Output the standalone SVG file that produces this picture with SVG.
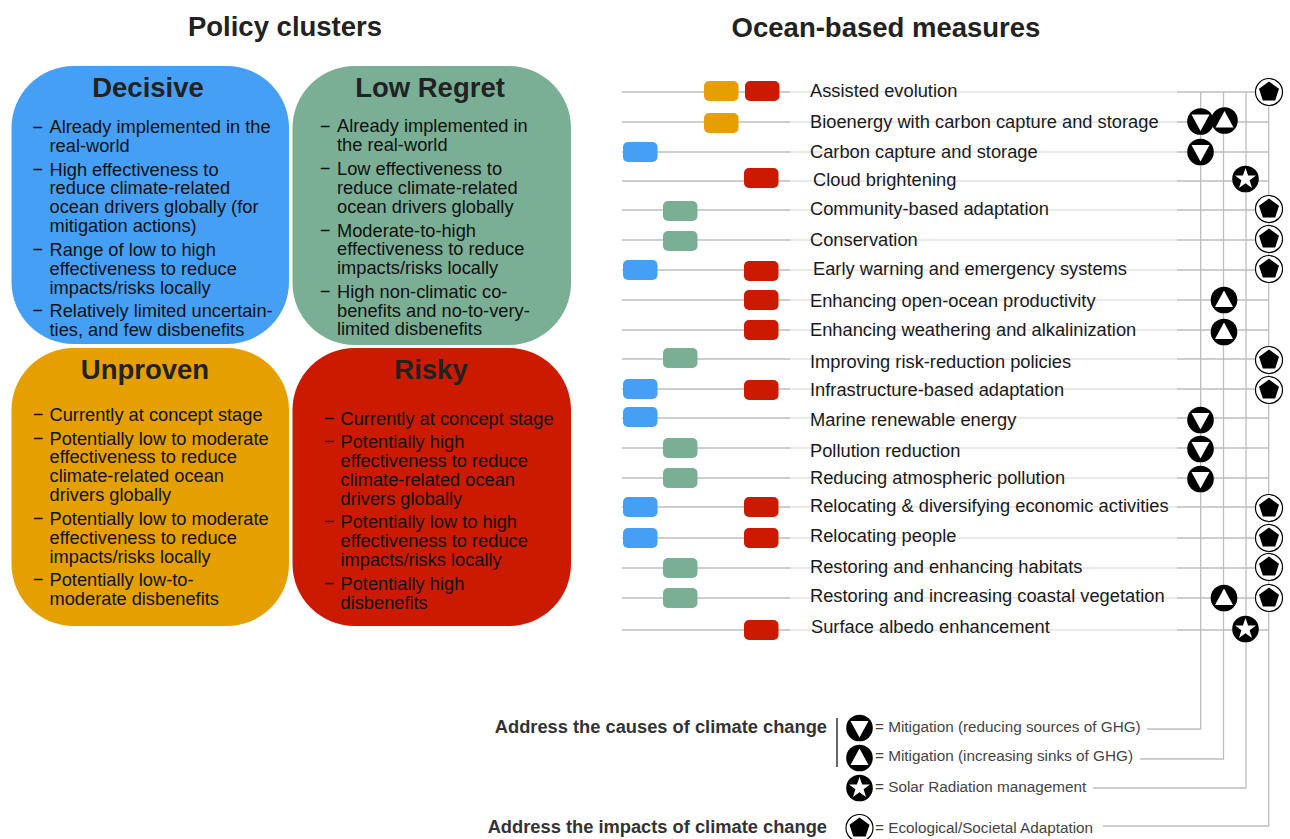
<svg xmlns="http://www.w3.org/2000/svg" width="1290" height="839" viewBox="0 0 1290 839">
<style>
text{font-family:"Liberation Sans",Arial,sans-serif}
.h{font-size:27.5px;font-weight:700;fill:#222;text-anchor:middle}
.t{font-size:18.25px;fill:#111}
.d{font-size:15px;fill:#111;stroke:#111;stroke-width:.3}
.m{font-size:18.3px;fill:#1a1a1a}
.l{font-size:15.3px;fill:#444}
.b{font-size:18.3px;font-weight:700;fill:#333;text-anchor:end}
.f{stroke:#e4e4e4;stroke-width:1.3;fill:none}
.s{stroke:#bdbdbd;stroke-width:1.3;fill:none}
.bl{fill:#45a0f5}.gr{fill:#7aaf95}.am{fill:#e5a000}.re{fill:#cc1a00}
</style>
<defs>
<rect id="pill" width="34.500" height="20" rx="5"/>
<g id="down"><circle r="13.3"/><polygon points="-9,-7 9,-7 0,9.5" fill="#fff"/></g>
<g id="up"><circle r="13.3"/><polygon points="-9,7 9,7 0,-9.5" fill="#fff"/></g>
<g id="star"><circle r="13.3"/><polygon points="0,-11 2.6,-3.4 10.5,-3.4 4.1,1.3 6.5,8.9 0,4.2 -6.5,8.9 -4.1,1.3 -10.5,-3.4 -2.6,-3.4" fill="#fff"/></g>
<g id="pent"><circle r="13.5" fill="#fff" stroke="#000" stroke-width="1.2"/><polygon points="0,-10.5 10,-3.2 6.2,8.5 -6.2,8.5 -10,-3.2"/></g>
</defs>
<rect width="1290" height="839" fill="#fff"/>
<g id="titles">
<text class="h" x="285" y="36">Policy clusters</text>
<text class="h" x="886" y="37">Ocean-based measures</text>
</g>
<g id="connectors">
<path class="f" d="M790 92H1177M790 122H1177M790 152H1177M790 181H1177M790 210H1177M790 240H1177M790 270H1177M790 300H1177M790 330H1177M790 359H1177M790 389H1177M790 418H1177M790 448H1177M790 478H1177M790 507H1177M790 538H1177M790 568H1177M790 598H1177M790 630H1177"/>
<path class="s" d="M622 92H790M622 122H790M622 152H790M622 181H790M622 210H790M622 240H790M622 270H790M622 300H790M622 330H790M622 359H790M622 389H790M622 418H790M622 448H790M622 478H790M622 507H790M622 538H790M622 568H790M622 598H790M622 630H790"/>
<path class="s" d="M1177 92H1269M1177 122H1269M1177 152H1269M1177 181H1269M1177 210H1269M1177 240H1269M1177 270H1269M1177 300H1269M1177 330H1269M1177 359H1269M1177 389H1269M1177 418H1269M1177 448H1269M1177 478H1269M1177 507H1269M1177 538H1269M1177 568H1269M1177 598H1269M1177 630H1269"/>
<path class="s" d="M1147 729H1200.700V92M1140 759H1223.500V92M1093 788H1246V92M1103 826H1268.700V92"/>
</g>
<g id="decisive">
<rect class="bl" x="11.500" y="66" width="277.500" height="278" rx="62"/>
<text class="h" x="148" y="97">Decisive</text>
<text class="d" x="33.500" y="130.500">–</text><text class="t" x="49.500" y="133">Already implemented in the</text><text class="t" x="49.500" y="152">real-world</text>
<text class="d" x="33.500" y="172.500">–</text><text class="t" x="49.500" y="176">High effectiveness to</text><text class="t" x="49.500" y="194">reduce climate-related</text><text class="t" x="49.500" y="213">ocean drivers globally (for</text><text class="t" x="49.500" y="232">mitigation actions)</text>
<text class="d" x="33.500" y="253">–</text><text class="t" x="49.500" y="256">Range of low to high</text><text class="t" x="49.500" y="275">effectiveness to reduce</text><text class="t" x="49.500" y="294">impacts/risks locally</text>
<text class="d" x="33.500" y="314">–</text><text class="t" x="49.500" y="317">Relatively limited uncertain-</text><text class="t" x="49.500" y="336">ties, and few disbenefits</text>
</g>
<g id="low-regret">
<rect class="gr" x="292.500" y="66" width="278.500" height="279" rx="62"/>
<text class="h" x="430" y="97">Low Regret</text>
<text class="d" x="321" y="129.500">–</text><text class="t" x="337" y="132">Already implemented in</text><text class="t" x="337" y="151">the real-world</text>
<text class="d" x="321" y="171.500">–</text><text class="t" x="337" y="175">Low effectiveness to</text><text class="t" x="337" y="194">reduce climate-related</text><text class="t" x="337" y="213">ocean drivers globally</text>
<text class="d" x="321" y="234">–</text><text class="t" x="337" y="237">Moderate-to-high</text><text class="t" x="337" y="255">effectiveness to reduce</text><text class="t" x="337" y="274">impacts/risks locally</text>
<text class="d" x="321" y="295">–</text><text class="t" x="337" y="298">High non-climatic co-</text><text class="t" x="337" y="317">benefits and no-to-very-</text><text class="t" x="337" y="335">limited disbenefits</text>
</g>
<g id="unproven">
<rect class="am" x="11.500" y="348" width="277.500" height="278" rx="62"/>
<text class="h" x="145" y="379">Unproven</text>
<text class="d" x="34" y="418">–</text><text class="t" x="49.500" y="421">Currently at concept stage</text>
<text class="d" x="34" y="442">–</text><text class="t" x="49.500" y="445">Potentially low to moderate</text><text class="t" x="49.500" y="463">effectiveness to reduce</text><text class="t" x="49.500" y="482">climate-related ocean</text><text class="t" x="49.500" y="501">drivers globally</text>
<text class="d" x="34" y="522">–</text><text class="t" x="49.500" y="525">Potentially low to moderate</text><text class="t" x="49.500" y="544">effectiveness to reduce</text><text class="t" x="49.500" y="563">impacts/risks locally</text>
<text class="d" x="34" y="583">–</text><text class="t" x="49.500" y="586">Potentially low-to-</text><text class="t" x="49.500" y="605">moderate disbenefits</text>
</g>
<g id="risky">
<rect class="re" x="292.500" y="348" width="278.500" height="278" rx="62"/>
<text class="h" x="431" y="379">Risky</text>
<text class="d" x="325" y="422">–</text><text class="t" x="340.500" y="425">Currently at concept stage</text>
<text class="d" x="325" y="445">–</text><text class="t" x="340.500" y="448">Potentially high</text><text class="t" x="340.500" y="467">effectiveness to reduce</text><text class="t" x="340.500" y="486">climate-related ocean</text><text class="t" x="340.500" y="505">drivers globally</text>
<text class="d" x="325" y="525">–</text><text class="t" x="340.500" y="528">Potentially low to high</text><text class="t" x="340.500" y="547">effectiveness to reduce</text><text class="t" x="340.500" y="566">impacts/risks locally</text>
<text class="d" x="325" y="587">–</text><text class="t" x="340.500" y="590">Potentially high</text><text class="t" x="340.500" y="609">disbenefits</text>
</g>
<g id="m-assisted"><use href="#pill" class="am" x="704" y="81"/><use href="#pill" class="re" x="745" y="81"/><text class="m" x="810" y="97">Assisted evolution</text><use href="#pent" x="1269" y="92"/></g>
<g id="m-bioenergy"><use href="#pill" class="am" x="704" y="113"/><text class="m" x="810" y="128">Bioenergy with carbon capture and storage</text><use href="#down" x="1200.500" y="121.500"/><use href="#up" x="1224.500" y="120.500"/></g>
<g id="m-ccs"><use href="#pill" class="bl" x="623" y="142"/><text class="m" x="810" y="158">Carbon capture and storage</text><use href="#down" x="1200.500" y="152"/></g>
<g id="m-cloud"><use href="#pill" class="re" x="744" y="168"/><text class="m" x="813" y="186">Cloud brightening</text><use href="#star" x="1245.500" y="179"/></g>
<g id="m-community"><use href="#pill" class="gr" x="663" y="201"/><text class="m" x="810" y="215">Community-based adaptation</text><use href="#pent" x="1269" y="209"/></g>
<g id="m-conservation"><use href="#pill" class="gr" x="663" y="231"/><text class="m" x="810" y="246">Conservation</text><use href="#pent" x="1269" y="239"/></g>
<g id="m-early"><use href="#pill" class="bl" x="623" y="260"/><use href="#pill" class="re" x="744" y="261"/><text class="m" x="813" y="275">Early warning and emergency systems</text><use href="#pent" x="1269" y="269"/></g>
<g id="m-openocean"><use href="#pill" class="re" x="744" y="290"/><text class="m" x="810" y="307">Enhancing open-ocean productivity</text><use href="#up" x="1224" y="300"/></g>
<g id="m-weathering"><use href="#pill" class="re" x="744" y="320"/><text class="m" x="810" y="336">Enhancing weathering and alkalinization</text><use href="#up" x="1224" y="332"/></g>
<g id="m-policies"><use href="#pill" class="gr" x="663" y="348"/><text class="m" x="810" y="368">Improving risk-reduction policies</text><use href="#pent" x="1269" y="360"/></g>
<g id="m-infra"><use href="#pill" class="bl" x="623" y="379"/><use href="#pill" class="re" x="744" y="380"/><text class="m" x="810" y="396">Infrastructure-based adaptation</text><use href="#pent" x="1269" y="390"/></g>
<g id="m-marine"><use href="#pill" class="bl" x="623" y="407"/><text class="m" x="810" y="426">Marine renewable energy</text><use href="#down" x="1200.500" y="420"/></g>
<g id="m-pollution"><use href="#pill" class="gr" x="663" y="438"/><text class="m" x="810" y="457">Pollution reduction</text><use href="#down" x="1200.500" y="449"/></g>
<g id="m-atmospheric"><use href="#pill" class="gr" x="663" y="468"/><text class="m" x="810" y="484">Reducing atmospheric pollution</text><use href="#down" x="1200.500" y="479"/></g>
<g id="m-economic"><use href="#pill" class="bl" x="623" y="497"/><use href="#pill" class="re" x="744" y="497"/><text class="m" x="810" y="512">Relocating &amp; diversifying economic activities</text><use href="#pent" x="1269" y="508"/></g>
<g id="m-people"><use href="#pill" class="bl" x="623" y="528"/><use href="#pill" class="re" x="744" y="528"/><text class="m" x="810" y="542">Relocating people</text><use href="#pent" x="1269" y="538"/></g>
<g id="m-habitats"><use href="#pill" class="gr" x="663" y="558"/><text class="m" x="810" y="573">Restoring and enhancing habitats</text><use href="#pent" x="1269" y="567"/></g>
<g id="m-coastal"><use href="#pill" class="gr" x="663" y="588"/><text class="m" x="810" y="602">Restoring and increasing coastal vegetation</text><use href="#up" x="1224" y="598"/><use href="#pent" x="1269" y="598"/></g>
<g id="m-albedo"><use href="#pill" class="re" x="744" y="620"/><text class="m" x="811" y="633">Surface albedo enhancement</text><use href="#star" x="1245.500" y="629"/></g>
<g id="legend">
<text class="b" x="827" y="733">Address the causes of climate change</text>
<text class="b" x="827" y="833">Address the impacts of climate change</text>
<path d="M837 718V767" stroke="#333" stroke-width="1.5" fill="none"/>
<use href="#down" x="859.500" y="728"/><text class="l" x="875" y="732">= Mitigation (reducing sources of GHG)</text>
<use href="#up" x="859.500" y="758"/><text class="l" x="875" y="761">= Mitigation (increasing sinks of GHG)</text>
<use href="#star" x="859.500" y="788"/><text class="l" x="875" y="792">= Solar Radiation management</text>
<use href="#pent" x="859.500" y="828"/><text class="l" x="875" y="833">= Ecological/Societal Adaptation</text>
</g>
</svg>
